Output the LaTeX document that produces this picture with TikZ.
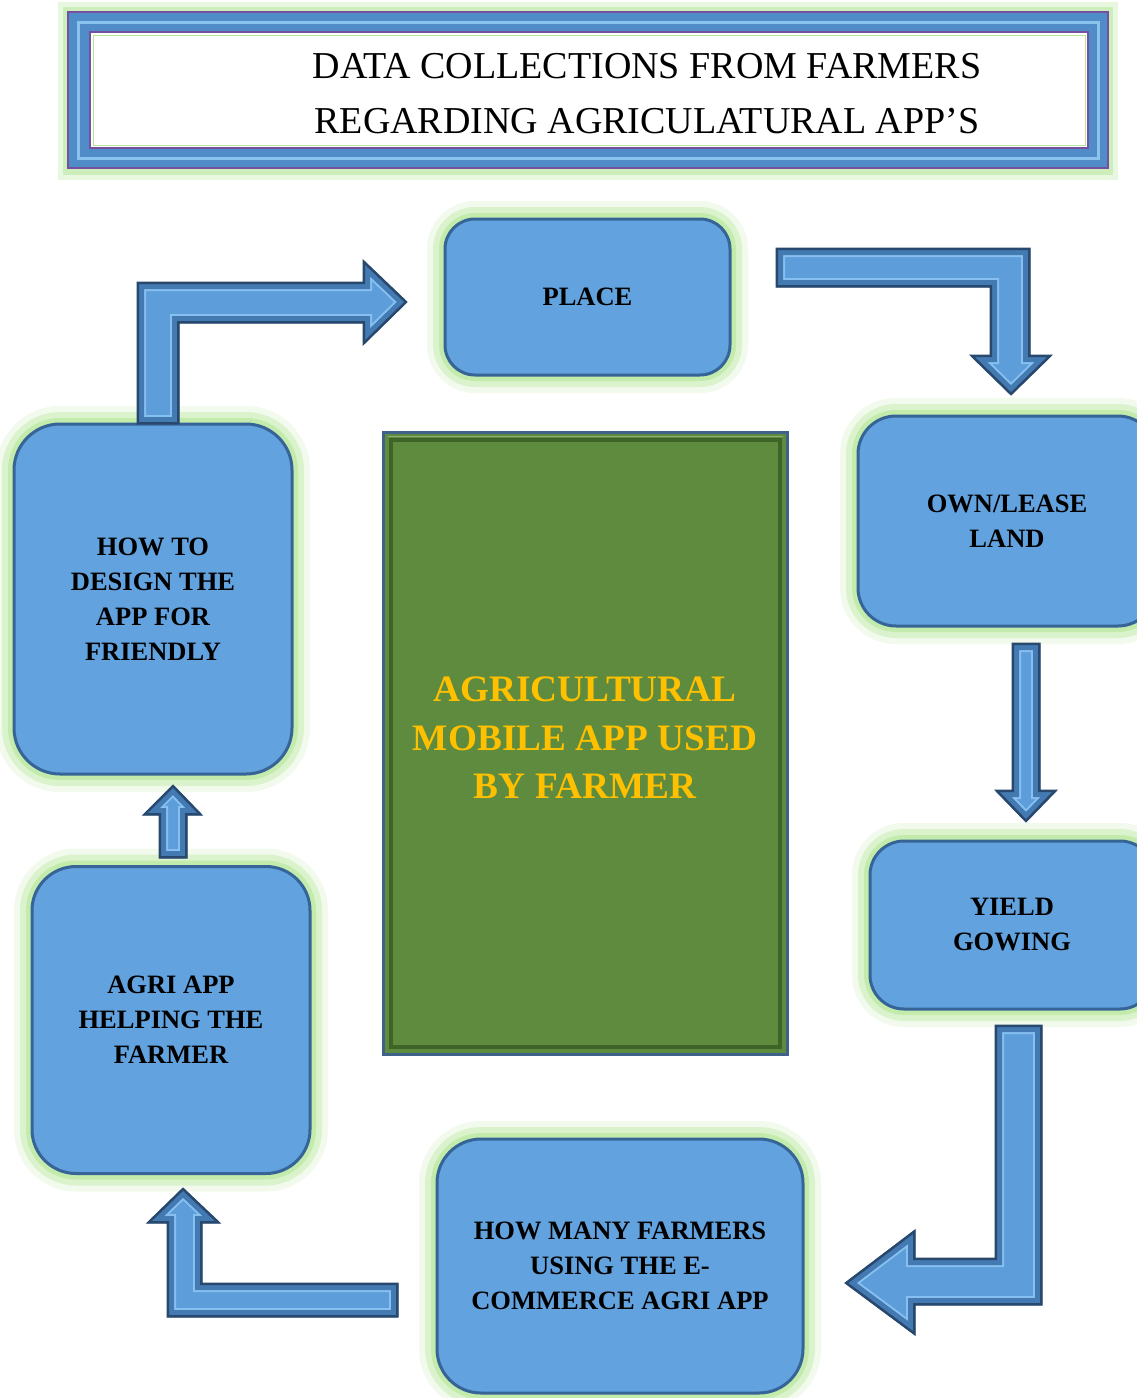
\documentclass[tikz,border=0pt]{standalone}
\usepackage{fontspec}
\setmainfont{Liberation Serif}
\definecolor{boxfill}{RGB}{98,162,222}
\definecolor{boxdark}{RGB}{55,100,150}
\definecolor{glow}{RGB}{180,230,150}
\definecolor{arrowfill}{RGB}{92,157,218}
\definecolor{arrowbevel}{RGB}{68,122,178}
\definecolor{arrowlight}{RGB}{135,192,240}
\definecolor{arrowline}{RGB}{40,72,110}
\definecolor{leaf}{RGB}{94,139,62}
\definecolor{leafdark}{RGB}{62,100,40}
\definecolor{rectblue}{RGB}{62,98,138}
\definecolor{gold}{RGB}{255,192,0}
\definecolor{frameblue}{RGB}{80,140,200}
\definecolor{framelight}{RGB}{140,195,238}
\definecolor{purp}{RGB}{118,80,160}
\tikzset{
  bluebox/.style={rounded corners=#1, fill=boxfill, draw=boxdark, line width=3pt,
    align=center, inner sep=0pt, text=black,
    font=\bfseries\fontsize{26.5}{35}\selectfont,
    preaction={draw=glow, line width=36pt, opacity=0.18},
    preaction={draw=glow, line width=24pt, opacity=0.35},
    preaction={draw=glow, line width=12pt, opacity=0.6}},
  bluebox/.default=30pt
}
\newcommand\blockarrow[1]{%
  \begin{scope}
    \clip #1;
    \fill[arrowfill] #1;
    \draw[arrowlight, line width=18pt] #1;
    \draw[arrowbevel, line width=14pt] #1;
    \draw[arrowline, line width=4pt] #1;
  \end{scope}
  \draw[arrowline, line width=1pt, line join=miter] #1;}
\begin{document}
\begin{tikzpicture}[x=1pt,y=-1pt]
\useasboundingbox[fill=white] (0,0) rectangle (1136,1398);

% title frame
\fill[glow, opacity=0.3] (58,2) rectangle (1118,180);
\fill[glow, opacity=0.5] (63,7) rectangle (1113,175);
\fill[frameblue, draw=purp, line width=2pt] (68,12) rectangle (1108,168);
\draw[framelight, line width=3pt] (78,22) rectangle (1098,158);
\fill[white, draw=purp, line width=2pt] (90,32) rectangle (1088,148);
\draw[glow, line width=1pt] (93,35) rectangle (1085,145);
\node[font=\fontsize{38}{55}\selectfont, align=center, inner sep=0pt] (title) at (647,94)
  {DATA COLLECTIONS FROM FARMERS\\REGARDING AGRICULATURAL APP’S};

% central green rectangle
\node[fill=leaf, draw=rectblue, line width=3pt, minimum width=404pt, minimum height=622pt,
      inner sep=0pt] (center) at (585,743) {};
\draw[leafdark, line width=4pt] ([shift={(9,9)}]center.north west) rectangle ([shift={(-9,-9)}]center.south east);
\draw[leaf!70!white, line width=1pt] ([shift={(6,6)}]center.north west) -- ([shift={(-6,6)}]center.north east);
\node[font=\bfseries\fontsize{37.3}{48.5}\selectfont, text=gold, align=center, inner sep=0pt]
  (centertext) at (585,738) {AGRICULTURAL\\MOBILE APP USED\\BY FARMER};

% blue boxes
\node[bluebox, minimum width=285pt, minimum height=156pt] (place) at (587.5,297) {PLACE};
\node[bluebox=38pt, minimum width=298pt, minimum height=210pt] (own) at (1007,521) {OWN/LEASE\\LAND};
\node[bluebox=34pt, minimum width=284pt, minimum height=168pt] (yield) at (1012,925) {YIELD\\GOWING};
\node[bluebox=44pt, minimum width=366pt, minimum height=254pt] (many) at (620,1266) {HOW MANY FARMERS\\USING THE E-\\COMMERCE AGRI APP};
\node[bluebox=44pt, minimum width=278pt, minimum height=307pt] (agri) at (171,1020) {AGRI APP\\HELPING THE\\FARMER};
\node[bluebox=46pt, minimum width=278pt, minimum height=350pt] (design) at (153,599) {HOW TO\\DESIGN THE\\APP FOR\\FRIENDLY};

% block arrows
\blockarrow{(137,424) -- (137,282) -- (363,282) -- (363,260) -- (407,302) -- (363,345) -- (363,323) -- (179,323) -- (179,424) -- cycle}
\blockarrow{(776,248) -- (1030,248) -- (1030,355) -- (1052,355) -- (1011,395) -- (970,355) -- (990,355) -- (990,287) -- (776,287) -- cycle}
\blockarrow{(1012,643) -- (1040,643) -- (1040,790) -- (1057,790) -- (1026,822) -- (995,790) -- (1012,790) -- cycle}
\blockarrow{(995,1025) -- (1042,1025) -- (1042,1305) -- (915,1305) -- (915,1335) -- (845,1283) -- (915,1230) -- (915,1258) -- (995,1258) -- cycle}
\blockarrow{(398,1283) -- (398,1317) -- (167,1317) -- (167,1223) -- (147,1223) -- (183,1188) -- (220,1223) -- (202,1223) -- (202,1283) -- cycle}
\blockarrow{(159,858) -- (187,858) -- (187,815) -- (202,815) -- (173,785) -- (143,815) -- (159,815) -- cycle}
\end{tikzpicture}
\end{document}
